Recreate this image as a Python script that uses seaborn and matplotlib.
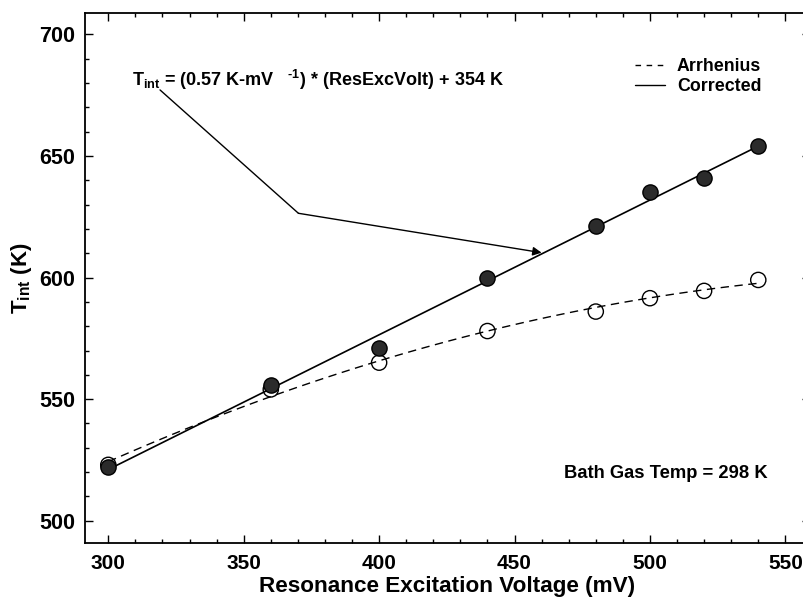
import numpy as np
import pandas as pd
import matplotlib
matplotlib.use("Agg")
import matplotlib.pyplot as plt
import seaborn as sns
from matplotlib.ticker import MultipleLocator, FixedLocator
from matplotlib.lines import Line2D

# ---- data ----
voltage = [300, 360, 400, 440, 480, 500, 520, 540]
t_corrected = [522, 556, 571, 600, 621, 635, 641, 654]
t_arrhenius = [523, 554, 565, 578, 586, 591.5, 594.5, 599]

x_ticks = [300, 350, 400, 450, 500, 550]
y_ticks = [500, 550, 600, 650, 700]
legend_labels = ["Arrhenius", "Corrected"]

sns.set_theme(style="ticks")
plt.rcParams['font.family'] = ['Liberation Sans', 'DejaVu Sans']
plt.rcParams['font.weight'] = 'bold'
plt.rcParams['text.color'] = 'black'
plt.rcParams['axes.labelcolor'] = 'black'
plt.rcParams['xtick.color'] = 'black'
plt.rcParams['ytick.color'] = 'black'
plt.rcParams['axes.edgecolor'] = 'black'
plt.rcParams['mathtext.fontset'] = 'custom'
plt.rcParams['mathtext.rm'] = 'Liberation Sans:bold'
plt.rcParams['mathtext.it'] = 'Liberation Sans:bold'
plt.rcParams['mathtext.bf'] = 'Liberation Sans:bold'
plt.rcParams['mathtext.default'] = 'rm'

df = pd.DataFrame({"V": voltage, "Tc": t_corrected, "Ta": t_arrhenius})

fig = plt.figure(figsize=(8.04, 6.03), dpi=100)
ax = fig.add_axes([85 / 804, 1 - 542.7 / 603, (810 - 85) / 804, (542.7 - 13.3) / 603])

# fitted curves
sns.regplot(data=df, x="V", y="Ta", order=2, ci=None, scatter=False, ax=ax,
            line_kws=dict(color="black", lw=1.0, ls=(0, (6, 4)), zorder=2))
sns.regplot(data=df, x="V", y="Tc", order=1, ci=None, scatter=False, ax=ax,
            line_kws=dict(color="black", lw=1.2, zorder=2))

# markers
sns.scatterplot(data=df, x="V", y="Ta", ax=ax, s=120, marker="o",
                facecolor="none", edgecolor="black", linewidth=1.0, zorder=3)
sns.scatterplot(data=df, x="V", y="Tc", ax=ax, s=120, marker="o",
                color="#2b2b2b", edgecolor="black", linewidth=1.0, zorder=4)

ax.set_xlim(291.4, 559.1)
ax.set_ylim(491.0, 708.6)
ax.xaxis.set_major_locator(FixedLocator(x_ticks))
ax.yaxis.set_major_locator(FixedLocator(y_ticks))
ax.xaxis.set_minor_locator(MultipleLocator(10))
ax.yaxis.set_minor_locator(MultipleLocator(10))
ax.tick_params(which="both", direction="in", top=True, right=True, color="black")
ax.tick_params(which="major", length=6, width=1.0)
ax.tick_params(which="minor", length=3, width=1.0)
ax.tick_params(axis="x", which="major", labelsize=15, pad=8)
ax.tick_params(axis="y", which="major", labelsize=15.5, pad=7)
for lab in ax.get_xticklabels() + ax.get_yticklabels():
    lab.set_fontweight("bold")
for sp in ax.spines.values():
    sp.set_linewidth(1.3)
    sp.set_color("black")

ax.set_xlabel("Resonance Excitation Voltage (mV)", fontsize=16.2, fontweight="bold", labelpad=2)
ax.set_ylabel(r"T$_{int}$ (K)", fontsize=16, fontweight="bold", labelpad=4)

# legend
handles = [Line2D([], [], color="black", lw=1.0, ls=(0, (4, 4))),
           Line2D([], [], color="black", lw=1.0)]
ax.legend(handles, legend_labels, loc="upper left", bbox_to_anchor=(0.7586, 0.915),
          frameon=False, borderpad=0, borderaxespad=0, handlelength=1.7,
          handletextpad=0.66, labelspacing=0.18, prop=dict(size=12.8, weight="bold"))

# annotation
ax.text(308.6, 681.2, r"T$_{int}$ = (0.57 K-mV   $^{\text{-1}}$) * (ResExcVolt) + 354 K",
        fontsize=13, fontweight="bold", ha="left", va="center")
ax.plot([319.1, 370.2], [677.1, 626.4], color="black", lw=1.0)
ax.annotate("", xy=(460.0, 610.2), xytext=(370.2, 626.4),
            arrowprops=dict(arrowstyle="-|>", color="black", lw=1.0, mutation_scale=13,
                            shrinkA=0, shrinkB=0))

ax.text(0.660, 0.131, "Bath Gas Temp = 298 K", transform=ax.transAxes,
        fontsize=13.2, fontweight="bold", ha="left", va="center")

fig.savefig("out.png", dpi=100)
